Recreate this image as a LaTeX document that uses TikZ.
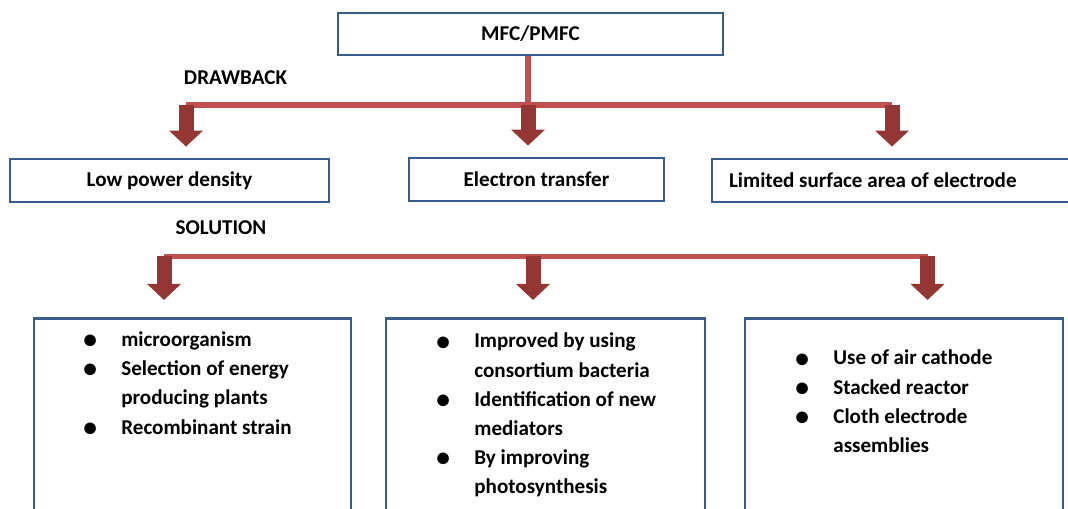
\documentclass[tikz,border=0pt]{standalone}
\usepackage{fontspec}
\setmainfont{Carlito}
\usetikzlibrary{arrows.meta}
\definecolor{boxblue}{HTML}{385D8A}
\definecolor{barred}{HTML}{C0504D}
\definecolor{arrowred}{HTML}{943634}
\newcommand\bitem{\makebox[0.76cm][l]{\raisebox{-1.2pt}{\scalebox{1.3}{\textbullet}}}}
\newcommand\bcont{\hspace*{0.76cm}}

\begin{document}
\begin{tikzpicture}[
    font=\fontsize{12}{16.6}\selectfont\bfseries,
    box/.style={draw=boxblue,line width=1.6pt,minimum height=0.86cm,inner sep=0pt},
    bar/.style={draw=barred,line width=3.4pt},
    downarrow/.style={draw=arrowred,line width=0.3cm,-{Triangle[width=0.66cm,length=0.32cm]},shorten >=#1},
    downarrow/.default=0.22cm]
    \useasboundingbox(0,0)rectangle(21.36,10.16);
    \clip(0,0)rectangle(21.36,10.16);

    % top level
    \node[box,minimum width=7.7cm,minimum height=0.84cm](mfc)at(10.61,9.48){MFC/PMFC};
    \node(drawback)at(4.71,8.61){DRAWBACK};
    \coordinate(d1)at(3.72,8.06);
    \coordinate(d2)at(10.56,8.06);
    \coordinate(d3)at(17.84,8.06);
    \draw[bar](d2|-mfc.south)--(d2);
    \draw[bar](d1)--(d3);

    % drawbacks
    \node[box,minimum width=6.38cm](low)at(3.39,6.55){Low power density};
    \node[box,minimum width=5.1cm](etrans)at(10.73,6.57){Electron transfer};
    \node[box,inner xsep=0.34cm](area)at(17.82,6.55){\makebox[6.48cm][l]{Limited surface area of electrode}};
    \draw[downarrow](d1)--(d1|-low.north);
    \draw[downarrow](d2)--(d2|-etrans.north);
    \draw[downarrow](d3)--(d3|-area.north);

    % solutions
    \node(solution)at(4.42,5.61){SOLUTION};
    \coordinate(s1)at(3.28,5.03);
    \coordinate(s2)at(10.66,5.03);
    \coordinate(s3)at(18.55,5.03);
    \draw[bar](s1)--(s3);

    \node[box,anchor=north,minimum width=6.34cm,minimum height=4.5cm](sol1)at(3.85,3.82){};
    \node[box,anchor=north,minimum width=6.38cm,minimum height=4.5cm](sol2)at(10.91,3.82){};
    \node[box,anchor=north,minimum width=6.36cm,minimum height=4.5cm](sol3)at(18.08,3.82){};
    \draw[downarrow=0.34cm](s1)--(s1|-sol1.north);
    \draw[downarrow=0.34cm](s2)--(s2|-sol2.north);
    \draw[downarrow=0.34cm](s3)--(s3|-sol3.north);

    \node[anchor=base west,inner sep=0pt](list1)at(1.66,3.23){\begin{tabular}[t]{@{}l@{}}
        \bitem microorganism\\
        \bitem Selection of energy\\
        \bcont producing plants\\
        \bitem Recombinant strain
    \end{tabular}};
    \node[anchor=base west,inner sep=0pt](list2)at(8.72,3.2){\begin{tabular}[t]{@{}l@{}}
        \bitem Improved by using\\
        \bcont consortium bacteria\\
        \bitem Identification of new\\
        \bcont mediators\\
        \bitem By improving\\
        \bcont photosynthesis
    \end{tabular}};
    \node[anchor=base west,inner sep=0pt](list3)at(15.9,2.86){\begin{tabular}[t]{@{}l@{}}
        \bitem Use of air cathode\\
        \bitem Stacked reactor\\
        \bitem Cloth electrode\\
        \bcont assemblies
    \end{tabular}};
\end{tikzpicture}
\end{document}
